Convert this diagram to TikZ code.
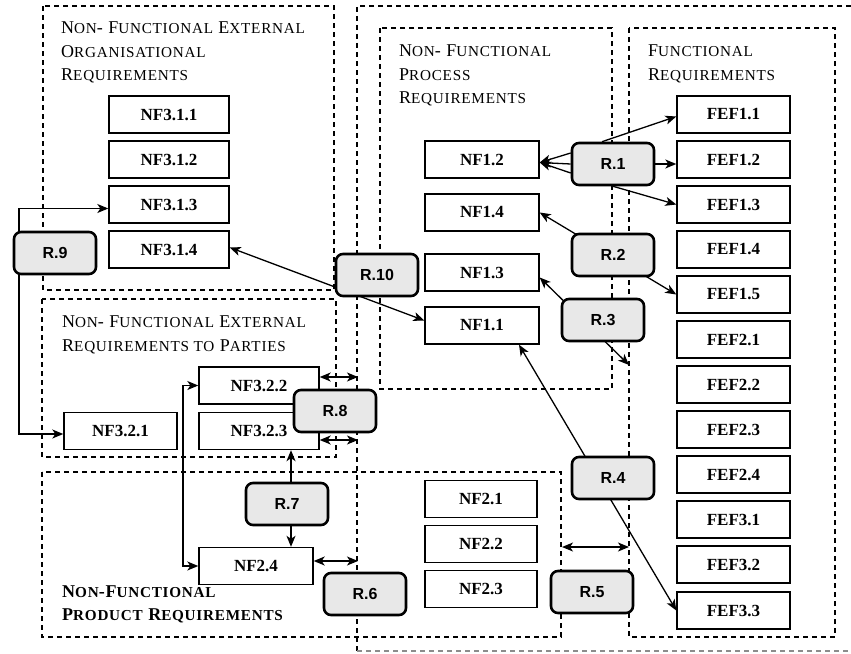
\documentclass[tikz,border=0pt]{standalone}
\usepackage{fontspec}
\setmainfont{Liberation Serif}
\setsansfont{Liberation Sans}
\newfontfamily\titlefont[LetterSpace=5]{Liberation Serif}
\usetikzlibrary{positioning,arrows.meta}

% smaller capitals for the area titles
\newcommand{\smc}[1]{{\fontsize{15.2}{23}\selectfont #1}}

\begin{document}
\begin{tikzpicture}[x=1pt,y=-1pt,
  area/.style={dash pattern=on 5pt off 4pt,line width=1.2pt},
  areatitle/.style={anchor=north west,align=left,inner sep=0pt,font=\titlefont\fontsize{18}{23.5}\selectfont},
  req/.style={draw,line width=1.4pt,minimum width=114pt,minimum height=37pt,inner sep=0pt,font=\fontsize{17}{17}\selectfont\bfseries},
  rel/.style={draw,line width=2.6pt,rounded corners=7pt,fill=black!9,minimum width=82pt,minimum height=42pt,inner sep=0pt,font=\fontsize{16}{16}\selectfont\sffamily\bfseries},
  link/.style={line width=1.3pt,{Stealth[length=11pt,width=9pt,inset=3pt]}-{Stealth[length=11pt,width=9pt,inset=3pt]}},
  linkto/.style={line width=1.3pt,-{Stealth[length=11pt,width=9pt,inset=3pt]}}
]
\useasboundingbox (0,0) rectangle (851,653);

% dashed areas
\draw [area] (851,6) -- (357,6) -- (357,651);
\draw [area,black!45] (357,651) -- (851,651);
\draw [area] (43,6) rectangle (334,290);
\draw [area] (42,299) rectangle (336,457);
\draw [area] (42,472) rectangle (561,637);
\draw [area] (380,28) rectangle (612,389);
\draw [area] (629,28) rectangle (835,637);

\node [areatitle] (torg) at (61,22) {N\smc{ON}- F\smc{UNCTIONAL} E\smc{XTERNAL}\\O\smc{RGANISATIONAL}\\R\smc{EQUIREMENTS}};
\node [areatitle] (tproc) at (399,45) {N\smc{ON}- F\smc{UNCTIONAL}\\P\smc{ROCESS}\\R\smc{EQUIREMENTS}};
\node [areatitle] (tfunc) at (648,45) {F\smc{UNCTIONAL}\\R\smc{EQUIREMENTS}};
\node [areatitle] (tpart) at (62,316) {N\smc{ON}- F\smc{UNCTIONAL} E\smc{XTERNAL}\\R\smc{EQUIREMENTS TO} P\smc{ARTIES}};
\node [areatitle,font=\titlefont\fontsize{18}{23}\selectfont\bfseries] (tprod) at (62,586) {N\smc{ON}-F\smc{UNCTIONAL}\\P\smc{RODUCT} R\smc{EQUIREMENTS}};

% external organisational
\node [req,minimum width=120pt] (nf311) at (169,114.5) {NF3.1.1};
\node [req,minimum width=120pt] (nf312) at (169,159.5) {NF3.1.2};
\node [req,minimum width=120pt] (nf313) at (169,204.5) {NF3.1.3};
\node [req,minimum width=120pt] (nf314) at (169,249.5) {NF3.1.4};

% external to parties
\node [req,minimum width=113pt] (nf321) at (120.5,431) {NF3.2.1};
\node [req,minimum width=120pt] (nf322) at (259,385.5) {NF3.2.2};
\node [req,minimum width=120pt] (nf323) at (259,431) {NF3.2.3};

% process
\node [req] (nf12) at (482,159.5) {NF1.2};
\node [req] (nf14) at (482,212.5) {NF1.4};
\node [req] (nf13) at (482,272.5) {NF1.3};
\node [req] (nf11) at (482,325.5) {NF1.1};

% product
\node [req,minimum width=112pt] (nf21) at (481,499) {NF2.1};
\node [req,minimum width=112pt] (nf22) at (481,544) {NF2.2};
\node [req,minimum width=112pt] (nf23) at (481,589) {NF2.3};
\node [req] (nf24) at (256,566) {NF2.4};

% functional
\node [req,minimum width=113pt] (fef11) at (733.5,114.5) {FEF1.1};
\node [req,minimum width=113pt] (fef12) at (733.5,159.5) {FEF1.2};
\node [req,minimum width=113pt] (fef13) at (733.5,204.5) {FEF1.3};
\node [req,minimum width=113pt] (fef14) at (733.5,249.5) {FEF1.4};
\node [req,minimum width=113pt] (fef15) at (733.5,294.5) {FEF1.5};
\node [req,minimum width=113pt] (fef21) at (733.5,339.5) {FEF2.1};
\node [req,minimum width=113pt] (fef22) at (733.5,384.5) {FEF2.2};
\node [req,minimum width=113pt] (fef23) at (733.5,429.5) {FEF2.3};
\node [req,minimum width=113pt] (fef24) at (733.5,474.5) {FEF2.4};
\node [req,minimum width=113pt] (fef31) at (733.5,519.5) {FEF3.1};
\node [req,minimum width=113pt] (fef32) at (733.5,564.5) {FEF3.2};
\node [req,minimum width=113pt] (fef33) at (733.5,610.5) {FEF3.3};

% free ends on the area borders
\coordinate (c3) at (629,365);
\coordinate (c5a) at (562,547);
\coordinate (c5b) at (629,547);
\coordinate (c6) at (358,561);
\coordinate (c7) at (183,470);
\coordinate (c8a) at (358,377);
\coordinate (c8b) at (358,440);
\coordinate (c9) at (19,300);

% relations running under the boxes
\draw [link] (nf14.east) -- (fef15.west);
\draw [link] ([yshift=-5pt]nf13.east) -- (c3);
\draw [link] ([xshift=37pt]nf11.south) -- (fef33.west);
\draw [link] (c5a) -- (c5b);
\draw [link] ([yshift=5pt]nf24.east) -- (c6);
\draw [link] ([xshift=32pt]nf323.south) -- ([xshift=32pt]nf323.south |- nf24.north);
\draw [link] ([yshift=8.5pt]nf322.east) -- (c8a);
\draw [link] ([yshift=-9pt]nf323.east) -- (c8b);
\draw [link] (nf322.west) -| (c7) |- (nf24.west);
\draw [link] ([yshift=-4pt]nf313.west) -| (c9) |- ([yshift=-3pt]nf321.west);
\draw [link] ([yshift=2pt]nf314.east) -- ([yshift=5pt]nf11.west);

% relation boxes
\node [rel] (r1) at (613,164) {R.1};
\node [rel] (r2) at (613,255) {R.2};
\node [rel] (r3) at (603,320) {R.3};
\node [rel] (r4) at (613,478) {R.4};
\node [rel] (r5) at (592,592) {R.5};
\node [rel] (r6) at (365,594) {R.6};
\node [rel] (r7) at (287,504) {R.7};
\node [rel] (r8) at (335,411) {R.8};
\node [rel] (r9) at (55,253) {R.9};
\node [rel] (r10) at (377,275) {R.10};

% R.1 fans out
\draw [linkto] ([yshift=11pt]r1.west) -- ([yshift=-3pt]nf12.east);
\draw [linkto] (r1.west) -- ([yshift=-3pt]nf12.east);
\draw [linkto] ([yshift=-9pt]r1.west) -- ([yshift=-3pt]nf12.east);
\draw [linkto] ([xshift=-11pt]r1.north) -- ([yshift=-2pt]fef11.west);
\draw [linkto] (r1.east) -- (r1.east -| fef12.west);
\draw [linkto] (r1.south) -- (fef13.west);
\end{tikzpicture}
\end{document}
